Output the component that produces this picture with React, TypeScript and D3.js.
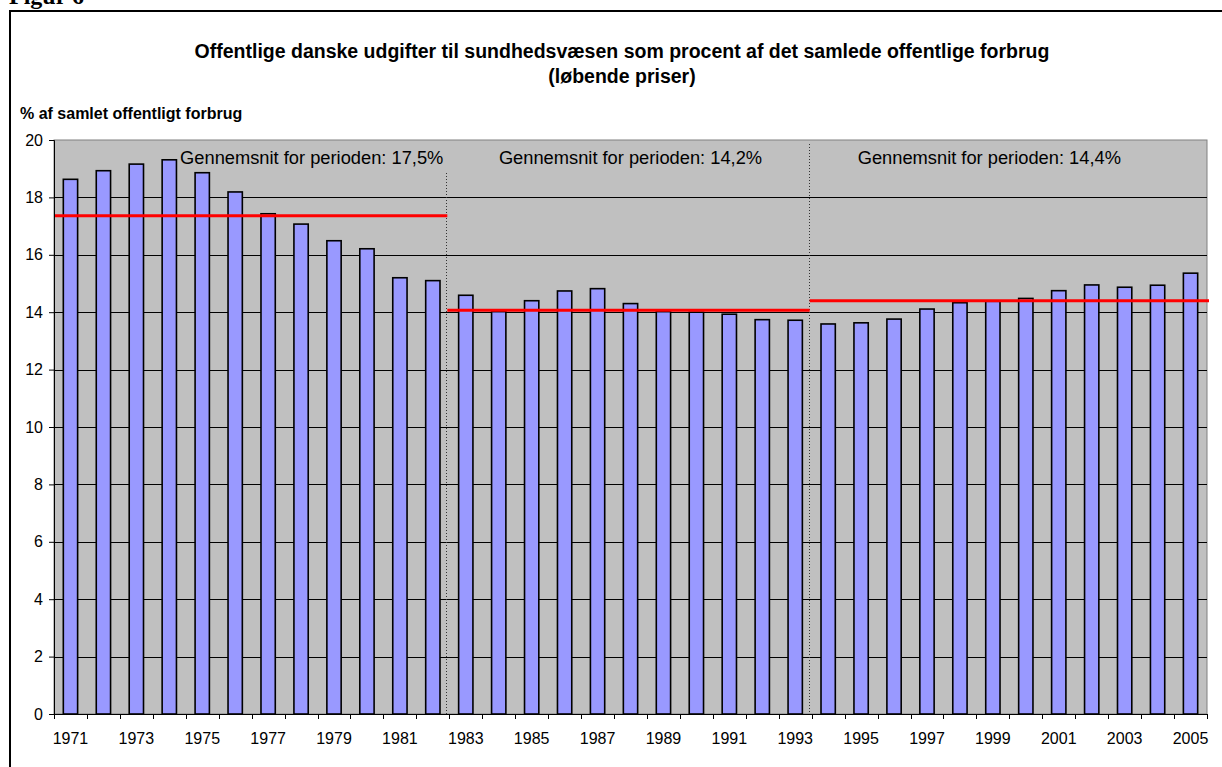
import { useRef, useEffect } from "react"
import * as d3 from "d3"

// years on the x axis
const years = d3.range(1971, 2006).map(String)

// share of total public consumption, %
const shares = [
  18.63, 18.93, 19.16, 19.31, 18.86, 18.19, 17.43, 17.07, 16.49, 16.21, 15.2, 15.1,
  14.59, 14.02, 14.4, 14.74, 14.82, 14.3, 14.02, 14.0, 13.93, 13.74, 13.72,
  13.59, 13.63, 13.76, 14.11, 14.33, 14.38, 14.48, 14.75, 14.95, 14.87, 14.94, 15.36,
]

// periods and their mean lines
const periodStart = ["1971", "1983", "1994"]
const periodMean = [17.36, 14.07, 14.4]
const periodLabels = [
  "Gennemsnit for perioden: 17,5%",
  "Gennemsnit for perioden: 14,2%",
  "Gennemsnit for perioden: 14,4%",
]

const yTicks = [0, 2, 4, 6, 8, 10, 12, 14, 16, 18, 20]

const W = 1222
const H = 767

const Chart = () => {
  const svgRef = useRef(null)

  useEffect(() => {
    const svg = d3.select(svgRef.current)
    svg.selectAll("*").remove()

    const left = 54
    const right = 1207
    const top = 140
    const bottom = 714

    const x = d3.scaleBand().domain(years).range([left, right]).paddingInner(0.566).paddingOuter(0.283)
    const y = d3.scaleLinear().domain([0, 20]).range([bottom, top])
    const step = x.step()
    const edge = (yr) => x(yr) - (step * 0.566) / 2

    // "Figur 6" heading cut off at the top of the page
    svg
      .append("text")
      .attr("x", 9)
      .attr("y", 4)
      .style("font-family", "'Liberation Serif', 'Times New Roman', serif")
      .style("font-weight", "bold")
      .style("font-size", "24px")
      .text("Figur 6")

    // outer frame
    svg
      .append("rect")
      .attr("x", 10)
      .attr("y", 11)
      .attr("width", W + 20)
      .attr("height", H)
      .attr("fill", "none")
      .attr("stroke", "#000")
      .attr("stroke-width", 2)

    const font = "'Liberation Sans', Arial, sans-serif"

    // title
    const title = svg
      .append("text")
      .attr("text-anchor", "middle")
      .style("font-family", font)
      .style("font-weight", "bold")
      .style("font-size", "19.5px")
    title
      .append("tspan")
      .attr("x", 622)
      .attr("y", 58)
      .text("Offentlige danske udgifter til sundhedsvæsen som procent af det samlede offentlige forbrug")
    title.append("tspan").attr("x", 622).attr("y", 83).text("(løbende priser)")

    // y axis title
    svg
      .append("text")
      .attr("x", 20)
      .attr("y", 119)
      .style("font-family", font)
      .style("font-weight", "bold")
      .style("font-size", "16px")
      .text("% af samlet offentligt forbrug")

    // plot area
    svg
      .append("rect")
      .attr("x", left)
      .attr("y", top)
      .attr("width", right - left)
      .attr("height", bottom - top)
      .attr("fill", "#C0C0C0")
      .attr("stroke", "#808080")
      .attr("stroke-width", 1)

    // gridlines
    svg
      .append("g")
      .selectAll("line")
      .data(yTicks.filter((t) => t > 0 && t < 20))
      .enter()
      .append("line")
      .attr("x1", left)
      .attr("x2", right)
      .attr("y1", (d) => Math.round(y(d)) + 0.5)
      .attr("y2", (d) => Math.round(y(d)) + 0.5)
      .attr("stroke", "#000")
      .attr("stroke-width", 1)

    // bars
    svg
      .append("g")
      .selectAll("rect")
      .data(shares)
      .enter()
      .append("rect")
      .attr("x", (d, i) => x(years[i]))
      .attr("y", (d) => y(d))
      .attr("width", x.bandwidth())
      .attr("height", (d) => bottom - y(d))
      .attr("fill", "#9999FF")
      .attr("stroke", "#000")
      .attr("stroke-width", 1.6)

    // period separators
    const seps = [periodStart[1], periodStart[2]]
    const sepTop = [top + 33, top + 4]
    seps.forEach((yr, i) => {
      svg
        .append("line")
        .attr("x1", Math.round(edge(yr)) - 2.5)
        .attr("x2", Math.round(edge(yr)) - 2.5)
        .attr("y1", sepTop[i])
        .attr("y2", bottom)
        .attr("stroke", "#333")
        .attr("stroke-width", 1)
        .attr("stroke-dasharray", "1,2")
    })

    // mean lines
    periodMean.forEach((m, i) => {
      const x1 = i === 0 ? left : edge(periodStart[i]) - 2
      const x2 = i === periodMean.length - 1 ? right + 2 : edge(periodStart[i + 1]) - 2
      svg
        .append("line")
        .attr("x1", x1)
        .attr("x2", x2)
        .attr("y1", y(m))
        .attr("y2", y(m))
        .attr("stroke", "#FF0000")
        .attr("stroke-width", 3)
    })

    // period labels
    const labelX = [
      edge(periodStart[1]) - 6,
      (edge(periodStart[1]) + edge(periodStart[2])) / 2,
      (edge(periodStart[2]) + right) / 2 - 20,
    ]
    const labelAnchor = ["end", "middle", "middle"]
    periodLabels.forEach((t, i) => {
      svg
        .append("text")
        .attr("x", labelX[i])
        .attr("y", top + 24)
        .attr("text-anchor", labelAnchor[i])
        .style("font-family", font)
        .style("font-size", "18.3px")
        .attr("fill", "#000")
        .text(t)
    })

    // y axis
    const yAxis = svg
      .append("g")
      .attr("transform", `translate(${left},0)`)
      .call(d3.axisLeft(y).tickValues(yTicks).tickSize(5).tickPadding(6))
    yAxis.select(".domain").attr("stroke", "#000")
    yAxis.selectAll("text").style("font-family", font).style("font-size", "16px").attr("fill", "#000")

    // x axis: line, boundary ticks, odd year labels
    const xg = svg.append("g")
    xg.append("line")
      .attr("x1", left)
      .attr("x2", right)
      .attr("y1", bottom + 0.5)
      .attr("y2", bottom + 0.5)
      .attr("stroke", "#000")
    const bounds = years.map((yr) => edge(yr)).concat([right])
    xg.selectAll(".tick")
      .data(bounds)
      .enter()
      .append("line")
      .attr("x1", (d) => Math.round(d) + 0.5)
      .attr("x2", (d) => Math.round(d) + 0.5)
      .attr("y1", bottom)
      .attr("y2", bottom + 5)
      .attr("stroke", "#000")
    xg.selectAll("text")
      .data(years.filter((yr, i) => i % 2 === 0))
      .enter()
      .append("text")
      .attr("x", (d) => x(d) + x.bandwidth() / 2)
      .attr("y", bottom + 30)
      .attr("text-anchor", "middle")
      .style("font-family", font)
      .style("font-size", "16px")
      .text((d) => d)
  }, [])

  return <svg ref={svgRef} width={W} height={H} style={{ position: "absolute", left: 0, top: 0, background: "#fff" }}></svg>
}

export default function App() {
  return <Chart />
}
